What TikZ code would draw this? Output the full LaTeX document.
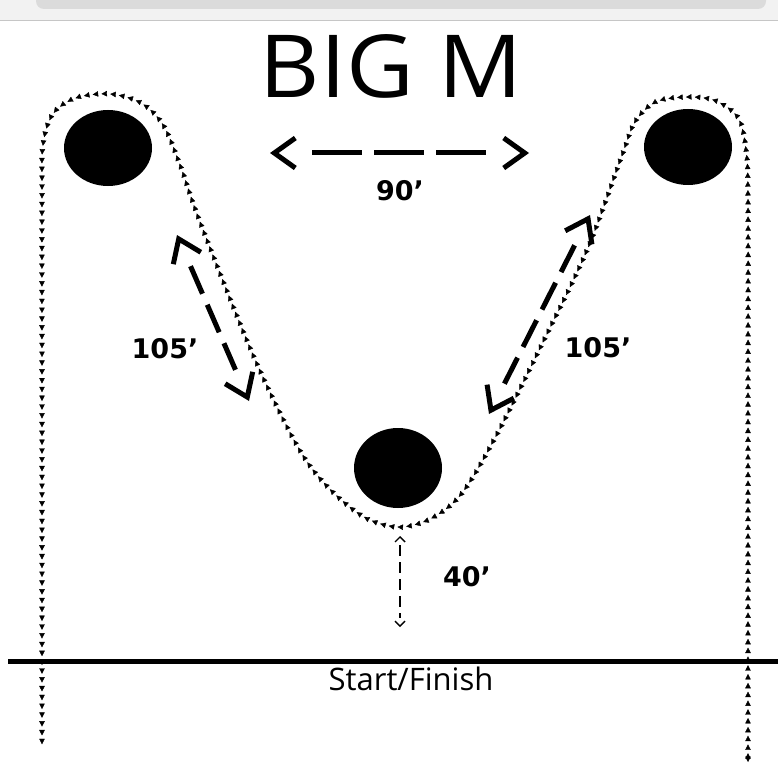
\documentclass[tikz,border=0pt]{standalone}
\usepackage{fontspec}
\newfontfamily\titlefont{Open Sans}
\newfontfamily\labelfont{DejaVu Sans}
\usetikzlibrary{arrows.meta,decorations.markings,calc}
\tikzset{
  cone/.style={fill=black},
  course/.style={decoration={markings,
      mark=between positions 0 and 1 step 8.8pt with {\arrow{Triangle[length=5.5pt,width=5.5pt]}}},
      postaction={decorate}},
  bigtips/.style={line width=5pt, dash pattern=on 0pt off 10000pt,
      {Straight Barb[length=21pt,width=30pt,sharp]}-{Straight Barb[length=21pt,width=30pt,sharp]}},
  bigdash/.style={line width=5pt, dash pattern=on 50pt off 12pt},
  diagdash/.style={line width=5pt, dash pattern=on 30pt off 12pt},
  smalltips/.style={line width=1.4pt, dash pattern=on 0pt off 10000pt,
      {Straight Barb[length=5pt,width=10pt]}-{Straight Barb[length=5pt,width=10pt]}},
  smalldash/.style={line width=1.4pt, dash pattern=on 11pt off 6pt},
  dimlabel/.style={font=\labelfont\bfseries\fontsize{27}{29}\selectfont, inner sep=0pt},
}
\begin{document}
\begin{tikzpicture}[x=1pt,y=-1pt]
\useasboundingbox (0,0) rectangle (778,778);
\fill[white] (0,0) rectangle (778,778);
% screenshot bar at the top
\fill[gray!10] (0,0) rectangle (778,20);
\fill[gray!28,rounded corners=8pt] (36,-12) rectangle (766,9);
\draw[gray!45,line width=0.8pt] (0,20) -- (778,20);

% title
\node[font=\titlefont\fontsize{87}{90}\selectfont, inner sep=0pt, xscale=1.07] (title) at (391,66) {BIG M};

% cones
\fill[cone] (108,148) ellipse [x radius=44, y radius=38];
\node (cL) at (108,148) {};
\fill[cone] (688,147) ellipse [x radius=44, y radius=38];
\node (cR) at (688,147) {};
\fill[cone] (398,468) ellipse [x radius=44, y radius=40];
\node (cM) at (398,468) {};

% course
\path[course] plot[smooth, tension=0.55] coordinates {
 (748,762) (748,600) (748,400) (748,200) (746,150) (738,118) (716,101) (688,97) (656,102) (635,122) (621,158)
 (587,250) (540,348) (496,436) (462,493) (432,518) (400,527) (368,519) (338,497) (310,466)
 (286,425) (250,348) (200,222) (180,165) (163,125) (141,103) (110,94) (76,98) (53,114) (43,145)
 (42,200) (42,400) (42,600) (42,752)};

% start / finish
\coordinate (sfL) at (8,661);
\coordinate (sfR) at (778,661);
\draw[line width=5pt] (sfL) -- (sfR);
\node[font=\titlefont\fontsize{31}{34}\selectfont, inner sep=0pt, anchor=base] (sf) at (411,690) {Start/Finish};

% dimension arrows
\coordinate (h1) at (270,153);
\coordinate (h2) at (529,153);
\draw[bigtips] (h1) -- (h2);
\draw[bigdash] ($(h1)!42pt!(h2)$) -- ($(h2)!42pt!(h1)$);
\node[dimlabel] (l90) at (400,191) {90’};

\coordinate (dl1) at (177,235);
\coordinate (dl2) at (249,401);
\draw[bigtips] (dl1) -- (dl2);
\draw[diagdash] ($(dl1)!34pt!(dl2)$) -- ($(dl2)!34pt!(dl1)$);
\node[dimlabel] (l105a) at (165,349) {105’};

\coordinate (dr1) at (590,215);
\coordinate (dr2) at (489,414);
\draw[bigtips] (dr1) -- (dr2);
\draw[diagdash] ($(dr1)!34pt!(dr2)$) -- ($(dr2)!34pt!(dr1)$);
\node[dimlabel] (l105b) at (598,348) {105’};

\coordinate (v1) at (400,536);
\coordinate (v2) at (400,627);
\draw[smalltips] (v1) -- (v2);
\draw[smalldash] ($(v1)!9pt!(v2)$) -- ($(v2)!9pt!(v1)$);
\node[dimlabel] (l40) at (467,577) {40’};
\end{tikzpicture}
\end{document}
